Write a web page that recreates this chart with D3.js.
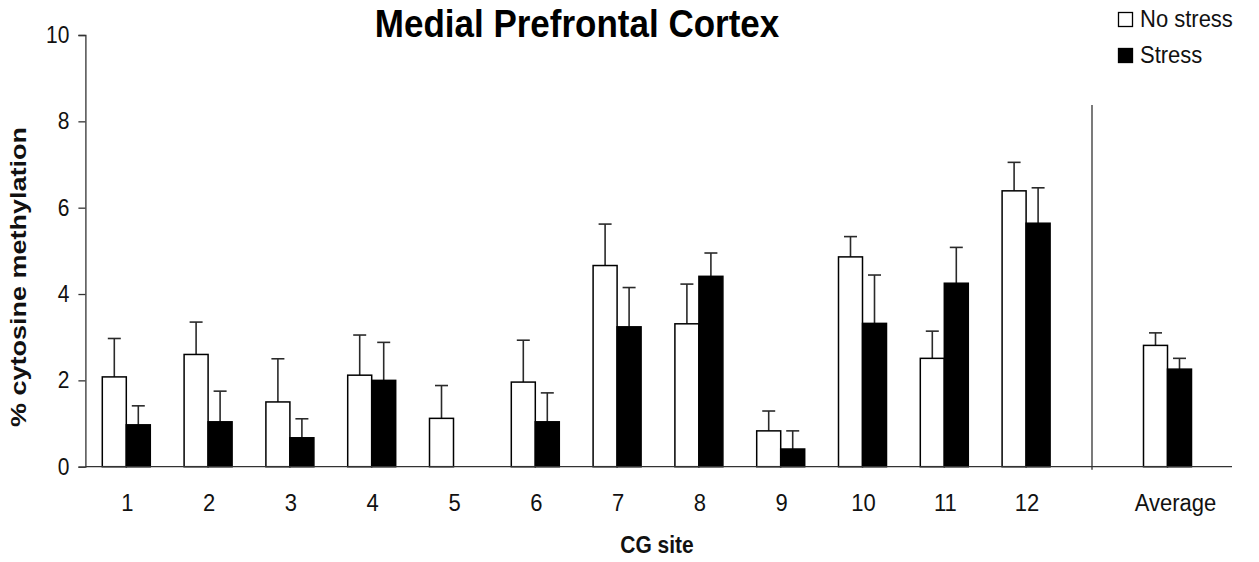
<!DOCTYPE html>
<html>
<head>
<meta charset="utf-8">
<script src="https://cdn.jsdelivr.net/npm/d3@7"></script>
<style>
  html, body { margin: 0; padding: 0; background: #fff; }
  svg { display: block; font-family: "Liberation Sans", Arial, Helvetica, sans-serif; }
</style>
</head>
<body>
<svg id="chart" width="1259" height="562"></svg>
<script>
// ---- data ----
const sites = ["1","2","3","4","5","6","7","8","9","10","11","12"];
const series = ["No stress", "Stress"];
const noStress    = [2.08, 2.60, 1.50, 2.12, 1.12, 1.96, 4.66, 3.31, 0.83, 4.86, 2.51, 6.39];
const noStressErr = [0.89, 0.75, 1.00, 0.93, 0.76, 0.97, 0.96, 0.92, 0.46, 0.47, 0.63, 0.66];
const stress      = [0.97, 1.04, 0.67, 2.00, 0.00, 1.04, 3.24, 4.41, 0.41, 3.32, 4.25, 5.64];
const stressErr   = [0.44, 0.71, 0.44, 0.88, 0.00, 0.67, 0.91, 0.54, 0.42, 1.12, 0.83, 0.82];
const avgLabel = ["Average"];
const avgNoStress = [2.81], avgNoStressErr = [0.29];
const avgStress   = [2.26], avgStressErr   = [0.25];
const yTicks = [0, 2, 4, 6, 8, 10];

const chartTitle = "Medial Prefrontal Cortex";
const yTitle = "% cytosine methylation";
const xTitle = "CG site";

// ---- layout ----
const svg = d3.select("#chart");
const plotLeft = 85.4, plotBottom = 466.7, plotTop = 35;
const stretch = 1.1; // text in the reference is slightly taller than wide
const y = d3.scaleLinear().domain([0, 10]).range([plotBottom, plotTop]);
const x = d3.scaleBand().domain(sites).range([plotLeft, plotLeft + 12 * 81.8]).padding(0);
const xAvg = d3.scaleBand().domain(avgLabel).range([1092, 1243]).padding(0);
const sub = d3.scaleBand().domain(series).range([-24, 24]).padding(0);
const fills = d3.scaleOrdinal().domain(series).range(["#ffffff", "#000000"]);

function label(g, tx, ty, str) {
  return g.append("text").attr("transform", `translate(${tx},${ty}) scale(1,${stretch})`).text(str);
}

// rows of bars
const rows = [];
sites.forEach((s, i) => {
  rows.push({cx: x(s) + x.bandwidth() / 2, key: series[0], v: noStress[i], e: noStressErr[i]});
  rows.push({cx: x(s) + x.bandwidth() / 2, key: series[1], v: stress[i], e: stressErr[i]});
});
avgLabel.forEach((s, i) => {
  rows.push({cx: xAvg(s) + xAvg.bandwidth() / 2, key: series[0], v: avgNoStress[i], e: avgNoStressErr[i]});
  rows.push({cx: xAvg(s) + xAvg.bandwidth() / 2, key: series[1], v: avgStress[i], e: avgStressErr[i]});
});

// error bars (drawn first, bars on top)
const eg = svg.append("g").attr("stroke", "#2a2a2a").attr("stroke-width", 1.6);
rows.filter(d => d.e > 0).forEach(d => {
  const bx = d.cx + sub(d.key) + sub.bandwidth() / 2;
  eg.append("line").attr("x1", bx).attr("x2", bx).attr("y1", y(d.v)).attr("y2", y(d.v + d.e));
  eg.append("line").attr("x1", bx - 6.5).attr("x2", bx + 6.5).attr("y1", y(d.v + d.e)).attr("y2", y(d.v + d.e));
});

// bars
svg.append("g").selectAll("rect").data(rows).join("rect")
  .attr("x", d => d.cx + sub(d.key))
  .attr("width", sub.bandwidth())
  .attr("y", d => y(d.v))
  .attr("height", d => y(0) - y(d.v))
  .attr("fill", d => fills(d.key))
  .attr("stroke", "#000")
  .attr("stroke-width", 1.5);

// y axis
const yAxis = d3.axisLeft(y).tickValues(yTicks).tickSize(7).tickPadding(9).tickFormat(d3.format("d"));
const yg = svg.append("g").attr("transform", `translate(${plotLeft},0)`).call(yAxis);
yg.select(".domain").attr("stroke", "#333").attr("stroke-width", 1.3);
yg.selectAll(".tick line").attr("stroke", "#333").attr("stroke-width", 1.3);
yg.selectAll(".tick text").attr("font-size", 21).attr("fill", "#111")
  .attr("font-family", "Liberation Sans, Arial, sans-serif")
  .attr("dy", "0.33em")
  .attr("transform", `scale(1,${stretch})`);

// x axis line
svg.append("line").attr("x1", plotLeft).attr("x2", 1232).attr("y1", plotBottom).attr("y2", plotBottom)
  .attr("stroke", "#333").attr("stroke-width", 1.3);
// separator
svg.append("line").attr("x1", 1092).attr("x2", 1092).attr("y1", 105).attr("y2", plotBottom + 3)
  .attr("stroke", "#333").attr("stroke-width", 1.3);

// x labels
const xl = svg.append("g").attr("font-size", 22).attr("fill", "#111").attr("text-anchor", "middle");
sites.forEach(s => label(xl, x(s) + x.bandwidth() / 2 + 1, 511, s));
avgLabel.forEach(s => label(xl, xAvg(s) + xAvg.bandwidth() / 2 + 8, 511, s));

// titles
const tg = svg.append("g").attr("text-anchor", "middle").attr("font-weight", "bold");
label(tg, 577, 37, chartTitle).attr("font-size", 35).attr("fill", "#000");
label(tg, 657, 553, xTitle).attr("font-size", 21).attr("fill", "#111");
tg.append("text").attr("transform", "translate(26,277) rotate(-90)")
  .attr("font-size", 22).attr("fill", "#111")
  .attr("textLength", 300).attr("lengthAdjust", "spacingAndGlyphs").text(yTitle);

// legend
const lg = svg.append("g");
series.forEach((s, i) => {
  lg.append("rect").attr("x", 1118.5).attr("y", 12.5 + i * 36).attr("width", 14).attr("height", 14)
    .attr("fill", fills(s)).attr("stroke", "#000").attr("stroke-width", 1.3);
  label(lg, 1140, 27 + i * 36, s).attr("font-size", 22).attr("fill", "#111");
});
</script>
</body>
</html>
